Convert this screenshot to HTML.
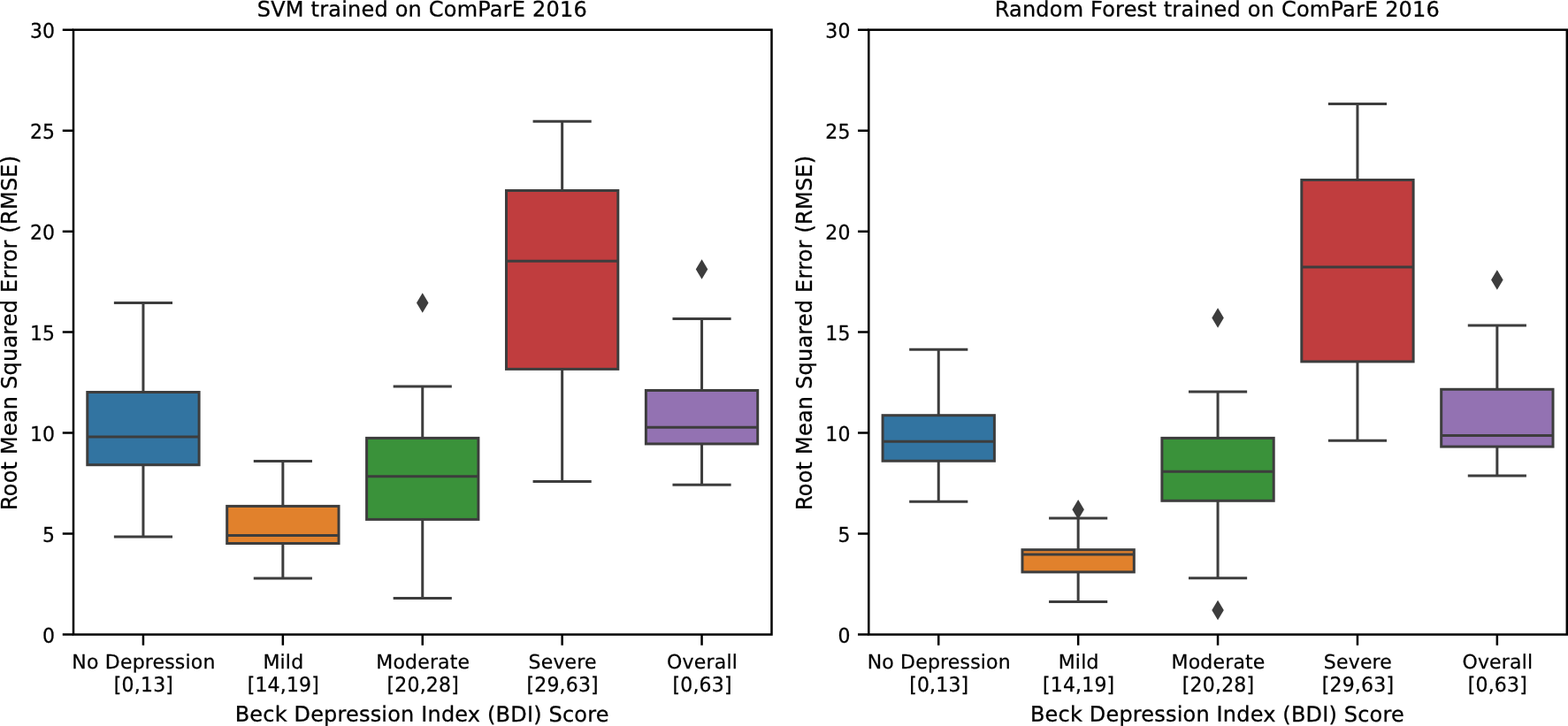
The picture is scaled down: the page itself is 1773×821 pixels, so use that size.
<!DOCTYPE html>
<html lang="en"><head><meta charset="utf-8"><title>RMSE by BDI score</title>
<style>
html,body{margin:0;padding:0;background:#fff;}
body{width:1773px;height:821px;overflow:hidden;}
svg{display:block;}
text{font-family:"DejaVu Sans", "Liberation Sans", sans-serif;fill:#000;letter-spacing:0.18px;}
.t{font-size:22px;stroke:#000;stroke-width:0.25px;stroke-linejoin:round;}
.l{font-size:24px;stroke:#000;stroke-width:0.3px;stroke-linejoin:round;}
.u{text-rendering:geometricPrecision;}
.s{stroke:#000;stroke-width:2.5;fill:none;}
.g{stroke:#3d3d3d;stroke-width:3.0;fill:none;stroke-linecap:butt;}
.b{stroke:#3d3d3d;stroke-width:3.0;stroke-linejoin:miter;}
.f{fill:#3d3d3d;stroke:#3d3d3d;stroke-width:2.5;stroke-linejoin:miter;}
</style></head><body>
<svg width="1773" height="821" viewBox="0 0 1773 821">
<rect width="1773" height="821" fill="#fff"/>
<g>
<rect class="b" x="98.79" y="443.5" width="126.32" height="82.2" fill="#3274a1"/>
<path class="g" d="M161.95 443.5V342.4M161.95 525.7V606.9M128.87 342.4H195.03M128.87 606.9H195.03M98.79 493.9H225.11"/>
<rect class="b" x="256.69" y="572.4" width="126.32" height="42.1" fill="#e1812c"/>
<path class="g" d="M319.85 572.4V521.5M319.85 614.5V653.9M286.77 521.5H352.93M286.77 653.9H352.93M256.69 605.4H383.01"/>
<rect class="b" x="414.59" y="495.4" width="126.32" height="92" fill="#3a923a"/>
<path class="g" d="M477.75 495.4V437.1M477.75 587.4V676.4M444.67 437.1H510.83M444.67 676.4H510.83M414.59 538.8H540.91"/>
<path class="f" d="M477.75 333.56L483.05 342.4L477.75 351.24L472.45 342.4Z"/>
<rect class="b" x="572.49" y="215.5" width="126.32" height="201.9" fill="#c03d3e"/>
<path class="g" d="M635.65 215.5V137.3M635.65 417.4V544.6M602.57 137.3H668.73M602.57 544.6H668.73M572.49 295.3H698.81"/>
<rect class="b" x="730.39" y="441.5" width="126.32" height="60.45" fill="#9372b2"/>
<path class="g" d="M793.55 441.5V360.4M793.55 501.95V548.3M760.47 360.4H826.63M760.47 548.3H826.63M730.39 483.3H856.71"/>
<path class="f" d="M793.55 295.66L798.85 304.5L793.55 313.34L788.25 304.5Z"/>
<path class="s" d="M83 717.55h-12.25M83 603.57h-12.25M83 489.6h-12.25M83 375.62h-12.25M83 261.65h-12.25M83 147.68h-12.25M83 33.7h-12.25M161.95 717.55v12.25M319.85 717.55v12.25M477.75 717.55v12.25M635.65 717.55v12.25M793.55 717.55v12.25"/>
<rect class="s" x="83" y="33.7" width="789.5" height="683.85" stroke-linejoin="miter"/>
<text class="t u" text-anchor="end" transform="translate(62.3 726.7) scale(1 1.047) matrix(1 0.0005 0 1 0 0)">0</text>
<text class="t u" text-anchor="end" transform="translate(62.3 612.72) scale(1 1.047) matrix(1 0.0005 0 1 0 0)">5</text>
<text class="t u" text-anchor="end" transform="translate(62.3 498.75) scale(1 1.047) matrix(1 0.0005 0 1 0 0)">10</text>
<text class="t u" text-anchor="end" transform="translate(62.3 384.77) scale(1 1.047) matrix(1 0.0005 0 1 0 0)">15</text>
<text class="t u" text-anchor="end" transform="translate(62.3 270.8) scale(1 1.047) matrix(1 0.0005 0 1 0 0)">20</text>
<text class="t u" text-anchor="end" transform="translate(62.3 156.83) scale(1 1.047) matrix(1 0.0005 0 1 0 0)">25</text>
<text class="t u" text-anchor="end" transform="translate(62.3 42.85) scale(1 1.047) matrix(1 0.0005 0 1 0 0)">30</text>
<text class="t u" text-anchor="middle" transform="translate(162.45 756) scale(1 1.0) matrix(1 0.0005 0 1 0 0)">No Depression</text>
<text class="t u" text-anchor="middle" transform="translate(162.45 782) scale(1 1.044) matrix(1 0.0005 0 1 0 0)">[0,13]</text>
<text class="t u" text-anchor="middle" transform="translate(320.35 756) scale(1 1.0) matrix(1 0.0005 0 1 0 0)">Mild</text>
<text class="t u" text-anchor="middle" transform="translate(320.35 782) scale(1 1.044) matrix(1 0.0005 0 1 0 0)">[14,19]</text>
<text class="t u" text-anchor="middle" transform="translate(478.25 756) scale(1 1.0) matrix(1 0.0005 0 1 0 0)">Moderate</text>
<text class="t u" text-anchor="middle" transform="translate(478.25 782) scale(1 1.044) matrix(1 0.0005 0 1 0 0)">[20,28]</text>
<text class="t u" text-anchor="middle" transform="translate(636.15 756) scale(1 1.0) matrix(1 0.0005 0 1 0 0)">Severe</text>
<text class="t u" text-anchor="middle" transform="translate(636.15 782) scale(1 1.044) matrix(1 0.0005 0 1 0 0)">[29,63]</text>
<text class="t u" text-anchor="middle" transform="translate(794.05 756) scale(1 1.0) matrix(1 0.0005 0 1 0 0)">Overall</text>
<text class="t u" text-anchor="middle" transform="translate(794.05 782) scale(1 1.044) matrix(1 0.0005 0 1 0 0)">[0,63]</text>
<text class="l" text-anchor="middle" transform="translate(477.15 815.85) matrix(1 0.0005 0 1 0 0)">Beck Depression Index (BDI) Score</text>
<text class="l" text-anchor="middle" style="letter-spacing:0.2px" transform="translate(477.35 18.55) matrix(1 0.0005 0 1 0 0)">SVM trained on ComParE 2016</text>
<text class="l" text-anchor="middle" style="letter-spacing:0.21px" transform="translate(18.7 376.38) rotate(-90)">Root Mean Squared Error (RMSE)</text>
</g>
<g>
<rect class="b" x="998.09" y="469.7" width="126.32" height="51.55" fill="#3274a1"/>
<path class="g" d="M1061.25 469.7V395.3M1061.25 521.25V567.3M1028.17 395.3H1094.33M1028.17 567.3H1094.33M998.09 499.3H1124.41"/>
<rect class="b" x="1155.99" y="621.7" width="126.32" height="25.2" fill="#e1812c"/>
<path class="g" d="M1219.15 621.7V585.9M1219.15 646.9V680.5M1186.07 585.9H1252.23M1186.07 680.5H1252.23M1155.99 627.1H1282.31"/>
<path class="f" d="M1219.15 567.46L1224.45 576.3L1219.15 585.14L1213.85 576.3Z"/>
<rect class="b" x="1313.89" y="495.4" width="126.32" height="70.9" fill="#3a923a"/>
<path class="g" d="M1377.05 495.4V443.1M1377.05 566.3V653.8M1343.97 443.1H1410.13M1343.97 653.8H1410.13M1313.89 533.3H1440.21"/>
<path class="f" d="M1377.05 350.66L1382.35 359.5L1377.05 368.34L1371.75 359.5Z"/>
<path class="f" d="M1377.05 681.06L1382.35 689.9L1377.05 698.74L1371.75 689.9Z"/>
<rect class="b" x="1471.79" y="203.5" width="126.32" height="205.4" fill="#c03d3e"/>
<path class="g" d="M1534.95 203.5V117.4M1534.95 408.9V498.3M1501.87 117.4H1568.03M1501.87 498.3H1568.03M1471.79 302.1H1598.11"/>
<rect class="b" x="1629.69" y="440.3" width="126.32" height="64.8" fill="#9372b2"/>
<path class="g" d="M1692.85 440.3V367.9M1692.85 505.1V538M1659.77 367.9H1725.93M1659.77 538H1725.93M1629.69 492.5H1756.01"/>
<path class="f" d="M1692.85 307.66L1698.15 316.5L1692.85 325.34L1687.55 316.5Z"/>
<path class="s" d="M982.3 717.55h-12.25M982.3 603.57h-12.25M982.3 489.6h-12.25M982.3 375.62h-12.25M982.3 261.65h-12.25M982.3 147.68h-12.25M982.3 33.7h-12.25M1061.25 717.55v12.25M1219.15 717.55v12.25M1377.05 717.55v12.25M1534.95 717.55v12.25M1692.85 717.55v12.25"/>
<rect class="s" x="982.3" y="33.7" width="789.5" height="683.85" stroke-linejoin="miter"/>
<text class="t u" text-anchor="end" transform="translate(961.6 726.7) scale(1 1.047) matrix(1 0.0005 0 1 0 0)">0</text>
<text class="t u" text-anchor="end" transform="translate(961.6 612.72) scale(1 1.047) matrix(1 0.0005 0 1 0 0)">5</text>
<text class="t u" text-anchor="end" transform="translate(961.6 498.75) scale(1 1.047) matrix(1 0.0005 0 1 0 0)">10</text>
<text class="t u" text-anchor="end" transform="translate(961.6 384.77) scale(1 1.047) matrix(1 0.0005 0 1 0 0)">15</text>
<text class="t u" text-anchor="end" transform="translate(961.6 270.8) scale(1 1.047) matrix(1 0.0005 0 1 0 0)">20</text>
<text class="t u" text-anchor="end" transform="translate(961.6 156.83) scale(1 1.047) matrix(1 0.0005 0 1 0 0)">25</text>
<text class="t u" text-anchor="end" transform="translate(961.6 42.85) scale(1 1.047) matrix(1 0.0005 0 1 0 0)">30</text>
<text class="t u" text-anchor="middle" transform="translate(1061.75 756) scale(1 1.0) matrix(1 0.0005 0 1 0 0)">No Depression</text>
<text class="t u" text-anchor="middle" transform="translate(1061.75 782) scale(1 1.044) matrix(1 0.0005 0 1 0 0)">[0,13]</text>
<text class="t u" text-anchor="middle" transform="translate(1219.65 756) scale(1 1.0) matrix(1 0.0005 0 1 0 0)">Mild</text>
<text class="t u" text-anchor="middle" transform="translate(1219.65 782) scale(1 1.044) matrix(1 0.0005 0 1 0 0)">[14,19]</text>
<text class="t u" text-anchor="middle" transform="translate(1377.55 756) scale(1 1.0) matrix(1 0.0005 0 1 0 0)">Moderate</text>
<text class="t u" text-anchor="middle" transform="translate(1377.55 782) scale(1 1.044) matrix(1 0.0005 0 1 0 0)">[20,28]</text>
<text class="t u" text-anchor="middle" transform="translate(1535.45 756) scale(1 1.0) matrix(1 0.0005 0 1 0 0)">Severe</text>
<text class="t u" text-anchor="middle" transform="translate(1535.45 782) scale(1 1.044) matrix(1 0.0005 0 1 0 0)">[29,63]</text>
<text class="t u" text-anchor="middle" transform="translate(1693.35 756) scale(1 1.0) matrix(1 0.0005 0 1 0 0)">Overall</text>
<text class="t u" text-anchor="middle" transform="translate(1693.35 782) scale(1 1.044) matrix(1 0.0005 0 1 0 0)">[0,63]</text>
<text class="l" text-anchor="middle" transform="translate(1376.45 815.85) matrix(1 0.0005 0 1 0 0)">Beck Depression Index (BDI) Score</text>
<text class="l" text-anchor="middle" style="letter-spacing:0.2px" transform="translate(1376.35 18.55) matrix(1 0.0005 0 1 0 0)">Random Forest trained on ComParE 2016</text>
<text class="l" text-anchor="middle" style="letter-spacing:0.21px" transform="translate(917.7 376.38) rotate(-90)">Root Mean Squared Error (RMSE)</text>
</g>
</svg>
</body></html>
